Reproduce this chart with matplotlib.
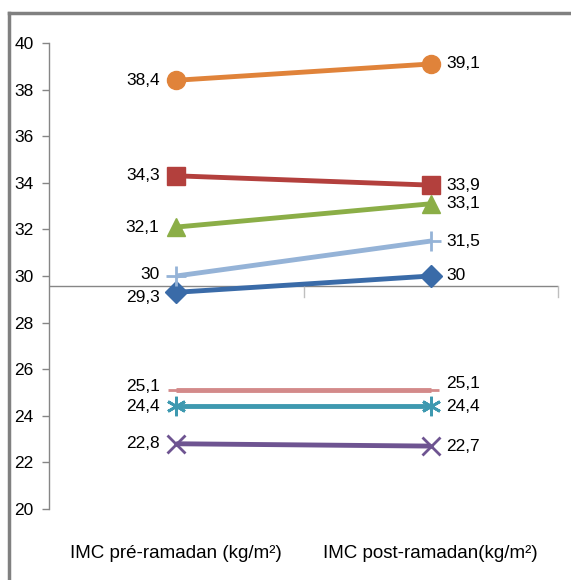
import matplotlib.pyplot as plt
from matplotlib.lines import Line2D

plt.rcParams['font.family'] = ['Liberation Sans Narrow', 'Liberation Sans', 'DejaVu Sans']

categories = ['IMC pré-ramadan (kg/m²)', 'IMC post-ramadan(kg/m²)']

s_blue = [29.3, 30]
s_red = [34.3, 33.9]
s_green = [32.1, 33.1]
s_purple = [22.8, 22.7]
s_teal = [24.4, 24.4]
s_orange = [38.4, 39.1]
s_lightblue = [30, 31.5]
s_pink = [25.1, 25.1]

yticks = [20, 22, 24, 26, 28, 30, 32, 34, 36, 38, 40]

series = [
    (s_blue, '#3A6BA8', 'D', 11),
    (s_red, '#B3403D', 's', 13),
    (s_green, '#8BAE47', '^', 13),
    (s_purple, '#6E5491', 'x', 13),
    (s_teal, '#3E99B0', (6, 2, 0), 14),
    (s_orange, '#E0833A', 'o', 13),
    (s_lightblue, '#95B3D7', '+', 15),
    (s_pink, '#D38A8A', '_', 12),
]

# label offsets (points) for crowded labels: (left dy, right dy)
offsets = {
    id(s_pink): (3, 5),
    id(s_blue): (-4, 0),
    id(s_lightblue): (1, 0),
}

fig = plt.figure(figsize=(5.71, 5.80), dpi=100)
ax = fig.add_axes([49 / 571, 1 - 509 / 580, (558 - 49) / 571, (509 - 43) / 580])

x = [0, 1]
for vals, col, mk, ms in series:
    ax.plot(x, vals, color=col, lw=3.5, marker=mk, markersize=ms,
            markeredgewidth=2 if mk in ('x', '+', '_') or isinstance(mk, tuple) else 1,
            markeredgecolor=col, markerfacecolor=col, solid_capstyle='butt', zorder=3)
    dl, dr = offsets.get(id(vals), (0, 0))
    ax.annotate(str(vals[0]).replace('.', ','), (0, vals[0]), xytext=(-12, dl),
                textcoords='offset points', ha='right', va='center', fontsize=12.5)
    ax.annotate(str(vals[1]).replace('.', ','), (1, vals[1]), xytext=(11, dr),
                textcoords='offset points', ha='left', va='center', fontsize=12.5)

ax.set_xlim(-0.5, 1.5)
ax.set_ylim(20, 40)
ax.set_yticks(yticks)
ax.set_yticklabels([str(t) for t in yticks], fontsize=12.5)
ax.tick_params(axis='y', length=5, width=1, color='#868686', pad=6)
ax.set_xticks([])

for side in ['top', 'right', 'bottom']:
    ax.spines[side].set_visible(False)
ax.spines['left'].set_color('#868686')
ax.spines['left'].set_linewidth(1)

# horizontal axis crossing
ax.axhline(29.57, color='#868686', lw=1, zorder=1)
ax.plot([0.5, 0.5], [29.57, 29.57 - 0.45], color='#BFBFBF', lw=1, zorder=1)
ax.plot([1.5, 1.5], [29.57, 29.57 - 0.45], color='#BFBFBF', lw=1, zorder=1, clip_on=False)

for i, c in enumerate(categories):
    ax.text(i, 18.1, c, ha='center', va='center', fontsize=13.5)

# outer frame (top and left)
fig.add_artist(Line2D([9 / 571, 9 / 571], [0, 1 - 13 / 580], transform=fig.transFigure,
                      color='#808080', lw=2.5))
fig.add_artist(Line2D([9 / 571, 1], [1 - 13 / 580, 1 - 13 / 580], transform=fig.transFigure,
                      color='#808080', lw=2.5))

fig.savefig('out.png', dpi=100)
